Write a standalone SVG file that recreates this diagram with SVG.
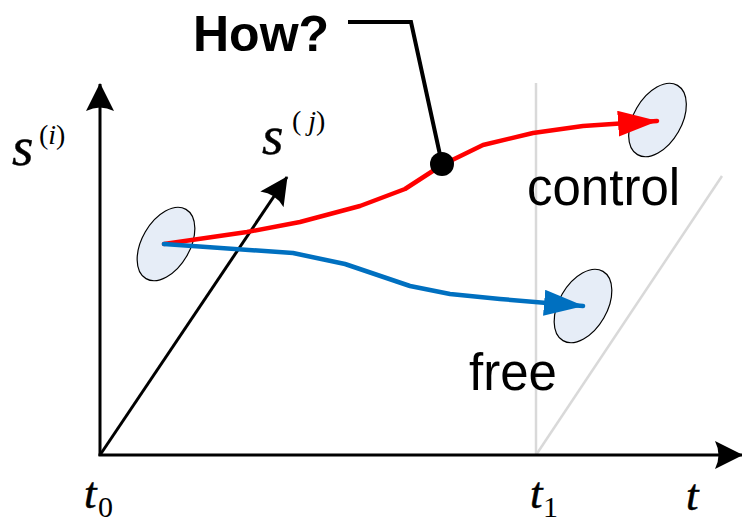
<svg xmlns="http://www.w3.org/2000/svg" width="742" height="522" viewBox="0 0 742 522">
<defs>
<style>
.ax{stroke:#000;stroke-width:3;fill:none}
.gr{stroke:#D9D9D9;stroke-width:2.5;fill:none}
.ell{fill:#E6EDF7;stroke:#000;stroke-width:1.2}
.m{font-family:"Liberation Serif","Times New Roman",serif;font-style:italic;fill:#000}
.b{stroke:#000;stroke-width:0.5}
.up{font-style:normal}
.lab{font-family:"Liberation Sans",Arial,sans-serif;fill:#000}
.tr{fill:none;stroke-width:4.5;stroke-linejoin:round;stroke-linecap:round}
</style>
<marker id="ah" viewBox="0 0 28 28" refX="27" refY="14" markerWidth="28" markerHeight="28" markerUnits="userSpaceOnUse" orient="auto">
<path d="M0,0 L28,14 L0,28 Q7,14 0,0 Z" fill="#000"/>
</marker>
<marker id="ahr" viewBox="0 0 40 26" refX="39" refY="13" markerWidth="40" markerHeight="26" markerUnits="userSpaceOnUse" orient="auto">
<path d="M0,0 L40,13 L0,26 Z" fill="#FF0000"/>
</marker>
<marker id="ahb" viewBox="0 0 40 26" refX="39" refY="13" markerWidth="40" markerHeight="26" markerUnits="userSpaceOnUse" orient="auto">
<path d="M0,0 L40,13 L0,26 Z" fill="#0070C0"/>
</marker>
</defs>
<rect width="742" height="522" fill="#fff"/>
<g id="guides">
<line class="gr" x1="536" y1="83" x2="536" y2="455"/>
<line class="gr" x1="536" y1="455" x2="722" y2="176"/>
</g>
<g id="axes">
<line class="ax" x1="100" y1="456" x2="100" y2="84" marker-end="url(#ah)"/>
<line class="ax" x1="98.5" y1="455" x2="742" y2="455" marker-end="url(#ah)"/>
<line class="ax" x1="100" y1="455" x2="287" y2="177" marker-end="url(#ah)"/>
</g>
<g id="start"><ellipse class="ell" cx="166" cy="244" rx="24" ry="40" transform="rotate(30 166 244)"/></g>
<g id="control-state"><ellipse class="ell" cx="657.5" cy="120" rx="24" ry="40" transform="rotate(30 657.5 120)"/></g>
<g id="free-state"><ellipse class="ell" cx="583" cy="306" rx="24" ry="40" transform="rotate(30 583 306)"/></g>
<g id="connectors">
<polyline class="tr" stroke="#FF0000" points="164,244 247,232 300,222 360,206 405,189 442,165 483,145 533,133 583,126 657,121" marker-end="url(#ahr)"/>
<polyline class="tr" stroke="#0070C0" points="164,244 293,253 345,264 410,286 450,294 500,299 583,306" marker-end="url(#ahb)"/>
<polyline points="348,22 411,22 442,164" fill="none" stroke="#000" stroke-width="4"/>
<circle cx="442" cy="164" r="12" fill="#000"/>
</g>
<g id="labels">
<text class="lab" x="193" y="51" font-size="50" font-weight="bold">How?</text>
<text class="lab" x="527" y="205" font-size="51">control</text>
<text class="lab" x="469" y="390" font-size="51">free</text>
<text class="m b" x="12" y="165" font-size="55">s</text>
<text class="m" x="39" y="144" font-size="28"><tspan class="up">(</tspan>i<tspan class="up">)</tspan></text>
<text class="m b" x="262" y="154" font-size="55">s</text>
<text class="m" x="292" y="130" font-size="28"><tspan class="up">(</tspan> j<tspan class="up">)</tspan></text>
<text class="m b" x="84" y="508" font-size="45">t</text>
<text class="m" x="98" y="517" font-size="30"><tspan class="up">0</tspan></text>
<text class="m b" x="530" y="508" font-size="45">t</text>
<text class="m" x="543" y="517" font-size="30"><tspan class="up">1</tspan></text>
<text class="m b" x="686" y="510" font-size="45">t</text>
</g>
</svg>
